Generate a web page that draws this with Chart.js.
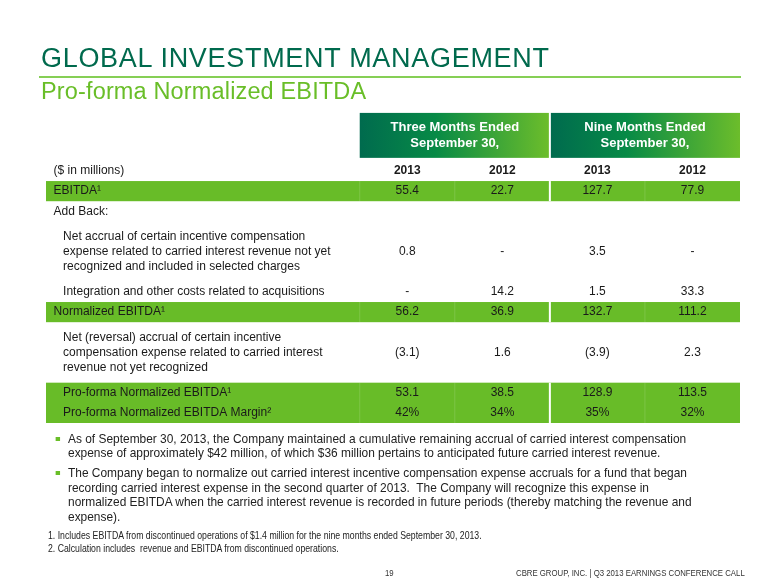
<!DOCTYPE html>
<html>
<head>
<meta charset="utf-8">
<script src="https://cdn.jsdelivr.net/npm/chart.js@4.4.1/dist/chart.umd.min.js"></script>
<style>
  body { margin: 0; background: #fff; }
  #slide { position: relative; width: 780px; height: 585px; overflow: hidden; font-family: 'Liberation Sans', Arial, sans-serif; color: #1a1a1a; }
  #tbl { position: absolute; left: 0; top: 0; }
  .title { position: absolute; left: 41px; top: 45px; font-size: 27px; line-height: 27px; letter-spacing: 0.7px; color: #006a4d; white-space: nowrap; }
  .rule { position: absolute; left: 39px; top: 76px; width: 702px; height: 1.5px; background: #86cf55; }
  .subtitle { position: absolute; left: 41px; top: 80px; font-size: 23.5px; line-height: 23px; letter-spacing: 0.15px; color: #69be28; white-space: nowrap; }
  /* sem fonte "narrow" instalada: comprime na horizontal */
  .bullets { position: absolute; left: 68px; top: 431.75px; font-size: 13.5px; line-height: 14.5px; color: #222; white-space: nowrap; transform: scaleX(0.883); transform-origin: 0 0; }
  .bullets p { position: relative; margin: 0 0 5.5px 0; }
  .bullets .sq { position: absolute; left: -13.6px; top: 5px; width: 4.5px; height: 4px; background: #69be28; }
  .notes { position: absolute; left: 48px; top: 528.5px; font-size: 10.5px; line-height: 13px; color: #222; white-space: nowrap; transform: scaleX(0.83); transform-origin: 0 0; }
  .footer { position: absolute; top: 566px; font-size: 9.5px; line-height: 14px; color: #333; white-space: nowrap; transform: scaleX(0.82); transform-origin: 0 0; }
</style>
</head>
<body>
<div id="slide">
  <canvas id="tbl" width="780" height="585"></canvas>
  <div class="title">GLOBAL INVESTMENT MANAGEMENT</div>
  <div class="rule"></div>
  <div class="subtitle">Pro-forma Normalized EBITDA</div>
  <div class="bullets">
    <p><span class="sq"></span>As of September 30, 2013, the Company maintained a cumulative remaining accrual of carried interest compensation<br>expense of approximately $42 million, of which $36 million pertains to anticipated future carried interest revenue.</p>
    <p><span class="sq"></span>The Company began to normalize out carried interest incentive compensation expense accruals for a fund that began<br>recording carried interest expense in the second quarter of 2013.&nbsp; The Company will recognize this expense in<br>normalized EBITDA when the carried interest revenue is recorded in future periods (thereby matching the revenue and<br>expense).</p>
  </div>
  <div class="notes">
    1. Includes EBITDA from discontinued operations of $1.4 million for the nine months ended September 30, 2013.<br>
    2. Calculation includes&nbsp; revenue and EBITDA from discontinued operations.
  </div>
  <div class="footer" style="left:385px;">19</div>
  <div class="footer" style="left:516px;">CBRE GROUP, INC. | Q3 2013 EARNINGS CONFERENCE CALL</div>
</div>

<script>
// --- dados da tabela ---
const rowLabels = [
  ['($ in millions)'],
  ['EBITDA\u00b9'],
  ['Add Back:'],
  ['Net accrual of certain incentive compensation', 'expense related to carried interest revenue not yet', 'recognized and included in selected charges'],
  ['Integration and other costs related to acquisitions'],
  ['Normalized EBITDA\u00b9'],
  ['Net (reversal) accrual of certain incentive', 'compensation expense related to carried interest', 'revenue not yet recognized'],
  ['Pro-forma Normalized EBITDA\u00b9'],
  ['Pro-forma Normalized EBITDA Margin\u00b2']
];
const indentRows = [3, 4, 6, 7, 8];
const highlightRows = [1, 5, 7, 8];

const periodHeaders = [['Three Months Ended', 'September 30,'], ['Nine Months Ended', 'September 30,']];
const yearLabels = ['2013', '2012', '2013', '2012'];

const q3_2013  = [null, '55.4',  null, '0.8', '-',    '56.2',  '(3.1)', '53.1',  '42%'];
const q3_2012  = [null, '22.7',  null, '-',   '14.2', '36.9',  '1.6',   '38.5',  '34%'];
const ytd_2013 = [null, '127.7', null, '3.5', '1.5',  '132.7', '(3.9)', '128.9', '35%'];
const ytd_2012 = [null, '77.9',  null, '-',   '33.3', '111.2', '2.3',   '113.5', '32%'];
const valueColumns = [q3_2013, q3_2012, ytd_2013, ytd_2012];

// posição de cada linha: altura = nº de linhas de texto
const rowPos = [];
rowLabels.forEach((lines, i) => {
  if (i === 0) { rowPos.push(0); return; }
  rowPos.push(rowPos[i - 1] + (rowLabels[i - 1].length + lines.length) / 2);
});

const LABEL_X = -2.72;
const INDENT = 0.1;
const HEADER_TOP = -2.88, HEADER_BOTTOM = -0.65;
const LINE_PITCH = 15;
const GREEN = '#68bc28';

// datasets: rótulos, anos, valores, cabeçalhos
const datasets = [];
datasets.push({
  kind: 'label',
  data: rowLabels.map((l, i) => ({ x: LABEL_X + (indentRows.includes(i) ? INDENT : 0), y: rowPos[i], text: l }))
});
datasets.push({
  kind: 'year',
  data: yearLabels.map((y, c) => ({ x: c + 1, y: rowPos[0], text: [y] }))
});
valueColumns.forEach((col, c) => {
  datasets.push({
    kind: 'value',
    data: col.map((v, i) => v === null ? null : ({ x: c + 1, y: rowPos[i], text: [v] })).filter(d => d)
  });
});
datasets.push({
  kind: 'header',
  data: periodHeaders.map((h, p) => ({ x: 1.5 + p * 2, y: (HEADER_TOP + HEADER_BOTTOM) / 2, text: h }))
});
datasets.forEach(d => { d.pointRadius = 0; d.pointHoverRadius = 0; });

// faixas verdes + cabeçalhos em degradê
const bandsPlugin = {
  id: 'bands',
  beforeDatasetsDraw(chart) {
    const { ctx, scales: { x, y } } = chart;
    ctx.save();
    // agrupa linhas destacadas contíguas
    const groups = [];
    highlightRows.forEach(r => {
      const g = groups[groups.length - 1];
      if (g && g[g.length - 1] === r - 1) g.push(r); else groups.push([r]);
    });
    groups.forEach(g => {
      const first = g[0], last = g[g.length - 1];
      const top = y.getPixelForValue(rowPos[first] - rowLabels[first].length / 2);
      const bot = y.getPixelForValue(rowPos[last] + rowLabels[last].length / 2);
      const left = x.getPixelForValue(x.min), right = x.getPixelForValue(x.max);
      ctx.fillStyle = GREEN;
      ctx.fillRect(left, top, right - left, bot - top);
      // divisórias leves
      [0.5, 1.5, 3.5].forEach(v => {
        ctx.fillStyle = 'rgba(255,255,255,0.14)';
        ctx.fillRect(x.getPixelForValue(v) - 0.5, top, 1, bot - top);
      });
      ctx.fillStyle = '#ffffff';
      ctx.fillRect(x.getPixelForValue(2.5) - 1, top, 2, bot - top);
    });
    // caixas do cabeçalho
    periodHeaders.forEach((h, p) => {
      const l = x.getPixelForValue(0.5 + p * 2) + (p ? 1 : 0);
      const r = x.getPixelForValue(2.5 + p * 2) - (p ? 0 : 1);
      const t = y.getPixelForValue(HEADER_TOP), b = y.getPixelForValue(HEADER_BOTTOM);
      const grad = ctx.createLinearGradient(l, 0, r, 0);
      grad.addColorStop(0, '#006b4e');
      grad.addColorStop(0.4, '#078a46');
      grad.addColorStop(1, '#6cbd2b');
      ctx.fillStyle = grad;
      ctx.fillRect(l, t, r - l, b - t);
    });
    ctx.restore();
  }
};

// textos das células
const textPlugin = {
  id: 'cellText',
  afterDatasetsDraw(chart) {
    const ctx = chart.ctx;
    ctx.save();
    ctx.textBaseline = 'middle';
    chart.data.datasets.forEach((ds, di) => {
      const meta = chart.getDatasetMeta(di);
      meta.data.forEach((pt, j) => {
        const lines = ds.data[j].text;
        if (ds.kind === 'label') {
          ctx.font = '12px "Liberation Sans", Arial, sans-serif';
          ctx.fillStyle = '#1a1a1a';
          ctx.textAlign = 'left';
        } else if (ds.kind === 'year') {
          ctx.font = 'bold 12px "Liberation Sans", Arial, sans-serif';
          ctx.fillStyle = '#1a1a1a';
          ctx.textAlign = 'center';
        } else if (ds.kind === 'header') {
          ctx.font = 'bold 13px "Liberation Sans", Arial, sans-serif';
          ctx.fillStyle = '#ffffff';
          ctx.textAlign = 'center';
        } else {
          ctx.font = '12px "Liberation Sans", Arial, sans-serif';
          ctx.fillStyle = '#1a1a1a';
          ctx.textAlign = 'center';
        }
        const pitch = ds.kind === 'header' ? 16 : LINE_PITCH;
        lines.forEach((t, k) => {
          ctx.fillText(t, pt.x, pt.y + (k - (lines.length - 1) / 2) * pitch);
        });
      });
    });
    ctx.restore();
  }
};

new Chart(document.getElementById('tbl'), {
  type: 'scatter',
  data: { datasets },
  options: {
    responsive: false,
    animation: false,
    events: [],
    layout: { padding: { left: 46, right: 40, top: 112.5, bottom: 162 } },
    plugins: { legend: { display: false }, tooltip: { enabled: false } },
    scales: {
      x: { type: 'linear', min: -2.8, max: 4.5, display: false },
      y: { type: 'linear', min: -2.9, max: 12.5, reverse: true, display: false }
    }
  },
  plugins: [bandsPlugin, textPlugin]
});
</script>
</body>
</html>
